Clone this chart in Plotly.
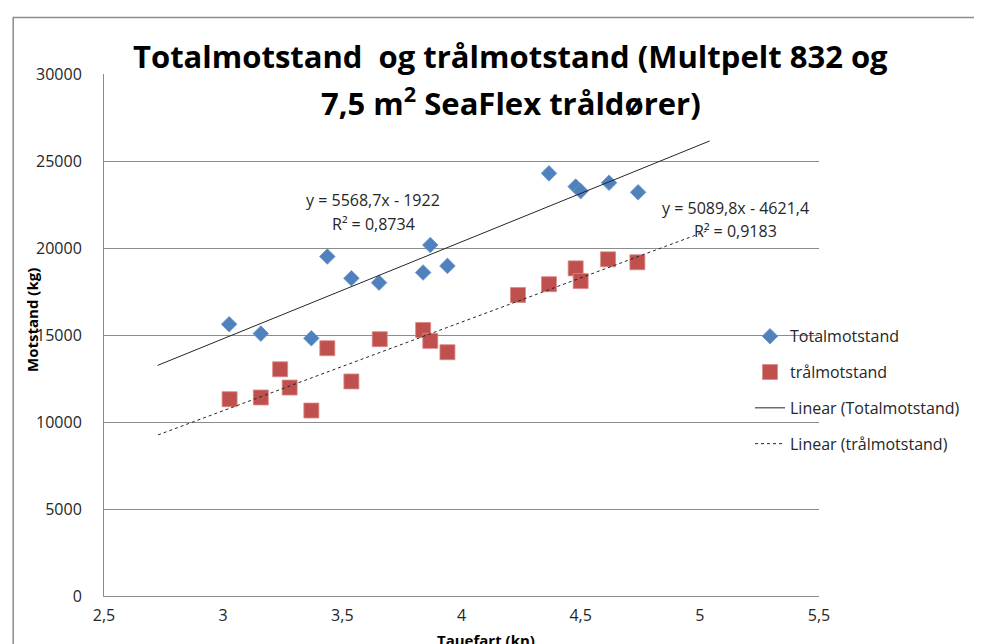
import plotly.graph_objects as go

# ---- data ----
total_x = [3.025, 3.158, 3.370, 3.437, 3.538, 3.654, 3.839, 3.869, 3.941,
           4.367, 4.479, 4.500, 4.619, 4.741]
total_y = [15620, 15080, 14810, 19510, 18260, 18010, 18590, 20170, 18970,
           24290, 23530, 23270, 23750, 23200]

tral_x = [3.027, 3.158, 3.239, 3.279, 3.370, 3.437, 3.538, 3.657, 3.839, 3.869,
          3.941, 4.237, 4.367, 4.479, 4.500, 4.615, 4.738]
tral_y = [11310, 11410, 13030, 11980, 10660, 14240, 12330, 14760, 15290, 14660,
          14010, 17300, 17920, 18830, 18100, 19350, 19180]

# trendline equations as printed on the chart
total_fit = (5568.7, -1922.0)
tral_fit = (5089.8, -4621.4)
total_eq = ["y = 5568,7x - 1922", "R² = 0,8734"]
tral_eq = ["y = 5089,8x - 4621,4", "R² = 0,9183"]
forecast = 0.3

x_ticks = [2.5, 3, 3.5, 4, 4.5, 5, 5.5]
x_tick_text = ["2,5", "3", "3,5", "4", "4,5", "5", "5,5"]
y_ticks = [0, 5000, 10000, 15000, 20000, 25000, 30000]
y_tick_text = ["0", "5000", "10000", "15000", "20000", "25000", "30000"]

title_lines = ["Totalmotstand  og trålmotstand (Multpelt 832 og",
               "7,5 m<sup>2</sup> SeaFlex tråldører)"]

FONT = "Open Sans"
BLUE = "#4F81BD"
RED = "#C0504D"
GRID = "#8C8C8C"
TXT = "#262626"


def trend(xs, fit):
    x0 = min(xs) - forecast
    x1 = max(xs) + forecast
    return [x0, x1], [fit[0] * x0 + fit[1], fit[0] * x1 + fit[1]]


fig = go.Figure()
fig.add_trace(go.Scatter(
    x=total_x, y=total_y, mode="markers", name="Totalmotstand",
    legendgroup="a",
    marker=dict(symbol="diamond", size=12, color=BLUE,
                line=dict(color="#6A96CC", width=0.8))))
fig.add_trace(go.Scatter(
    x=tral_x, y=tral_y, mode="markers", name="trålmotstand",
    legendgroup="b",
    marker=dict(symbol="square", size=15, color=RED,
                line=dict(color="#D98A88", width=0.8))))
tx, ty = trend(total_x, total_fit)
fig.add_trace(go.Scatter(
    x=tx, y=ty, mode="lines", name="Linear (Totalmotstand)", legendgroup="c",
    line=dict(color=TXT, width=1)))
rx, ry = trend(tral_x, tral_fit)
fig.add_trace(go.Scatter(
    x=rx, y=ry, mode="lines", name="Linear (trålmotstand)", legendgroup="d",
    line=dict(color=TXT, width=1, dash="3px,3px")))

ann = []
# equation labels
ann.append(dict(x=3.629, y=22740, text=total_eq[0], showarrow=False,
                font=dict(size=16, color=TXT)))
ann.append(dict(x=3.629, y=21360, text=total_eq[1], showarrow=False,
                font=dict(size=16, color=TXT)))
ann.append(dict(x=5.148, y=22280, text=tral_eq[0], showarrow=False,
                font=dict(size=16, color=TXT)))
ann.append(dict(x=5.148, y=20960, text=tral_eq[1], showarrow=False,
                font=dict(size=16, color=TXT)))
# title lines
ann.append(dict(xref="paper", yref="paper", x=0.569, y=1.035, text="<b>" + title_lines[0] + "</b>",
                showarrow=False, font=dict(size=31, color="black", family=FONT),
                xanchor="center", yanchor="middle"))
ann.append(dict(xref="paper", yref="paper", x=0.569, y=0.948, text="<b>" + title_lines[1] + "</b>",
                showarrow=False, font=dict(size=31, color="black", family=FONT),
                xanchor="center", yanchor="middle"))
# axis titles
ann.append(dict(xref="paper", yref="paper", x=-0.1, y=0.528, text="<b>Motstand (kg)</b>",
                textangle=-90, showarrow=False, font=dict(size=15, color="black"),
                xanchor="center", yanchor="middle"))
ann.append(dict(xref="paper", yref="paper", x=0.534, y=-0.084, text="<b>Tauefart (kn)</b>",
                showarrow=False, font=dict(size=15, color="black"),
                xanchor="center", yanchor="middle"))

fig.update_layout(
    width=982, height=644,
    margin=dict(l=96, r=171, t=65.5, b=56),
    paper_bgcolor="white", plot_bgcolor="white",
    font=dict(family=FONT, size=16, color=TXT),
    showlegend=True,
    legend=dict(x=0.9035, y=0.53, xanchor="left", yanchor="top",
                bgcolor="rgba(0,0,0,0)", tracegroupgap=12,
                font=dict(size=16, color=TXT)),
    annotations=ann,
    shapes=[dict(type="rect", xref="paper", yref="paper",
                 x0=-0.127, x1=1.4, y0=-0.3, y1=1.108,
                 line=dict(color="#8C8C8C", width=1.5), layer="below")],
)
fig.update_xaxes(range=[2.5, 5.5], tickvals=x_ticks, ticktext=x_tick_text,
                 showgrid=False, zeroline=False, showline=True,
                 linecolor=GRID, linewidth=1, ticks="", ticklabelstandoff=5)
fig.update_yaxes(range=[0, 30000], tickvals=y_ticks, ticktext=y_tick_text,
                 showgrid=True,
                 gridcolor=GRID, gridwidth=1, zeroline=False, showline=True,
                 linecolor=GRID, linewidth=1, ticks="", ticklabelstandoff=18)

fig.write_html("out.html")
